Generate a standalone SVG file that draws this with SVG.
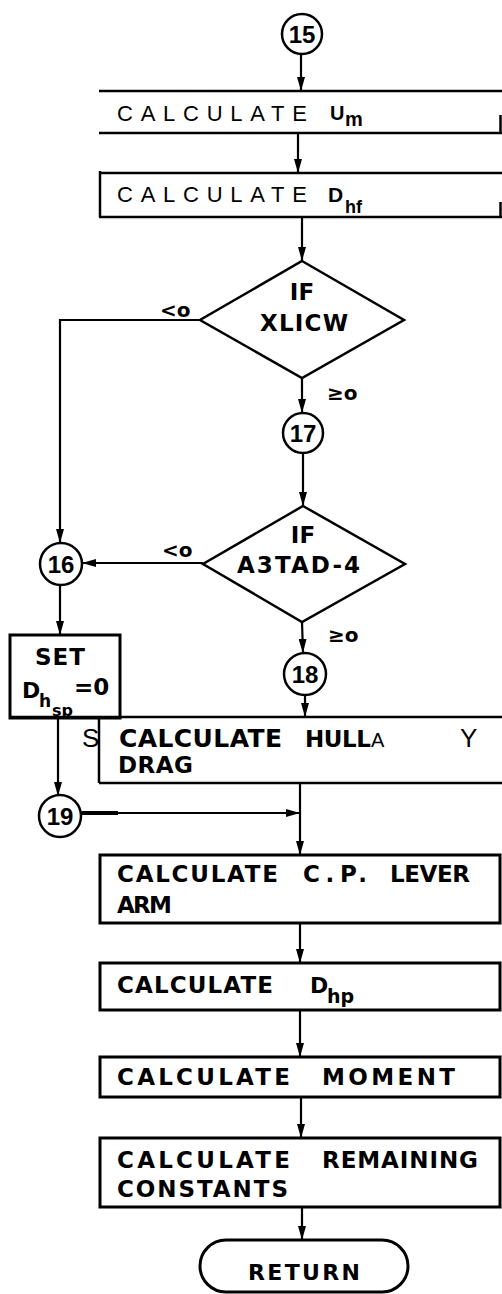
<svg xmlns="http://www.w3.org/2000/svg" width="502" height="1294" viewBox="0 0 502 1294">
<style>
.ln{stroke:#000;stroke-width:2.5;fill:none}
.bx{stroke:#000;stroke-width:3;fill:#fff}
.cn{stroke:#000;stroke-width:2.2;fill:none}
.c{stroke:#000;stroke-width:2.5;fill:#fff}
.b{font-family:"DejaVu Sans","Liberation Sans",sans-serif;font-weight:bold;fill:#000}
.d{font-family:"Liberation Sans",Arial,sans-serif;font-weight:bold;fill:#000}
.t{font-family:"Liberation Sans",Arial,sans-serif;font-weight:normal;fill:#000}
.m{text-anchor:middle}
</style>
<defs>
<marker id="ah" markerUnits="userSpaceOnUse" markerWidth="15" markerHeight="8" refX="14" refY="4" orient="auto">
<path d="M0,0 L14,4 L0,8 z" fill="#000"/>
</marker>
</defs>
<rect width="502" height="1294" fill="#fff"/>

<g id="connectors">
<line class="cn" x1="301" y1="54" x2="301" y2="91" marker-end="url(#ah)"/>
<line class="cn" x1="298" y1="133" x2="298" y2="173" marker-end="url(#ah)"/>
<line class="cn" x1="302" y1="217" x2="302" y2="261" marker-end="url(#ah)"/>
<polyline class="cn" points="200,320 60,320 60,543" marker-end="url(#ah)"/>
<line class="cn" x1="302" y1="378" x2="302" y2="413" marker-end="url(#ah)"/>
<line class="cn" x1="303" y1="453" x2="303" y2="506" marker-end="url(#ah)"/>
<line class="cn" x1="203" y1="563" x2="82" y2="563" marker-end="url(#ah)"/>
<line class="cn" x1="60" y1="585" x2="60" y2="635" marker-end="url(#ah)"/>
<line class="cn" x1="302" y1="622" x2="303" y2="653" marker-end="url(#ah)"/>
<line class="cn" x1="305" y1="695" x2="305" y2="717" marker-end="url(#ah)"/>
<line class="cn" x1="58" y1="718" x2="58" y2="796" marker-end="url(#ah)"/>
<line class="cn" x1="82" y1="813" x2="300" y2="813" marker-end="url(#ah)"/>
<line x1="82" y1="813" x2="118" y2="813" stroke="#000" stroke-width="4"/>
<line class="cn" x1="300" y1="783" x2="300" y2="855" marker-end="url(#ah)"/>
<line class="cn" x1="300" y1="923" x2="300" y2="963" marker-end="url(#ah)"/>
<line class="cn" x1="300" y1="1010" x2="300" y2="1057" marker-end="url(#ah)"/>
<line class="cn" x1="301" y1="1097" x2="301" y2="1138" marker-end="url(#ah)"/>
<line class="cn" x1="302" y1="1207" x2="302" y2="1240" marker-end="url(#ah)"/>
</g>

<g id="n15">
<circle class="c" cx="302" cy="34" r="20"/>
<text class="d m" x="302" y="42.5" font-size="24">15</text>
</g>

<g id="calcUm">
<line class="ln" x1="99" y1="91" x2="502" y2="91" stroke-width="3"/>
<line class="ln" x1="99" y1="133" x2="502" y2="133" stroke-width="3"/>
<line class="ln" x1="500.5" y1="115" x2="500.5" y2="133" stroke-width="1.5"/>
<text class="t" x="117" y="121" font-size="22" textLength="190" lengthAdjust="spacing">CALCULATE</text>
<text class="d" x="330" y="120" font-size="20">U</text>
<text class="d" x="345" y="126" font-size="20">m</text>
</g>

<g id="calcDhf">
<line class="ln" x1="99" y1="173" x2="502" y2="173" stroke-width="3"/>
<line class="ln" x1="99" y1="217" x2="502" y2="217" stroke-width="3"/>
<line class="ln" x1="100" y1="171" x2="100" y2="217" stroke-width="3"/>
<line class="ln" x1="500.5" y1="202" x2="500.5" y2="217" stroke-width="1.5"/>
<text class="t" x="117" y="202" font-size="22" textLength="190" lengthAdjust="spacing">CALCULATE</text>
<text class="d" x="328" y="202" font-size="21">D</text>
<text class="d" x="345" y="213" font-size="18">hf</text>
</g>

<g id="ifXLICW">
<polygon class="c" points="302,261 404,320 302,378 200,320"/>
<text class="b m" x="302" y="300" font-size="23">IF</text>
<text class="b" x="260" y="331" font-size="23" textLength="88" lengthAdjust="spacing">XLICW</text>
<text class="b" x="160" y="317" font-size="20">&lt;o</text>
<text class="b" x="327" y="400" font-size="20">≥o</text>
</g>

<g id="n17">
<circle class="c" cx="303" cy="433" r="20"/>
<text class="d m" x="303" y="441.5" font-size="24">17</text>
</g>

<g id="ifA3TAD">
<polygon class="c" points="303,506 405,564 302,622 203,564"/>
<text class="b m" x="303" y="543" font-size="23">IF</text>
<text class="b" x="237" y="573" font-size="23" textLength="123" lengthAdjust="spacing">A3TAD-4</text>
<text class="b" x="162" y="557" font-size="20">&lt;o</text>
<text class="b" x="328" y="642" font-size="20">≥o</text>
</g>

<g id="n16">
<circle class="c" cx="61" cy="564" r="21"/>
<text class="d m" x="61" y="572.5" font-size="24">16</text>
</g>

<g id="n18">
<circle class="c" cx="305" cy="674" r="21"/>
<text class="d m" x="305" y="682.5" font-size="24">18</text>
</g>

<g id="setDhsp">
<rect class="bx" x="10" y="635" width="110" height="83"/>
<text class="b m" x="60" y="665" font-size="23" textLength="50" lengthAdjust="spacing">SET</text>
<text class="b" x="22" y="698" font-size="22">D</text>
<text class="b" x="39" y="707" font-size="17">h</text>
<text class="b" x="52" y="716" font-size="16">sp</text>
<text class="b" x="74" y="695" font-size="23">=0</text>
</g>

<g id="hullDrag">
<text class="t" x="82" y="747" font-size="26">S</text>
<line class="ln" x1="10" y1="717" x2="502" y2="717" stroke-width="3"/>
<line class="ln" x1="99" y1="717" x2="99" y2="783" stroke-width="2"/>
<line class="ln" x1="99" y1="783" x2="502" y2="783" stroke-width="2.5"/>
<text class="b" x="119" y="747" font-size="25" textLength="163" lengthAdjust="spacing">CALCULATE</text>
<text class="b" x="305" y="747" font-size="23" textLength="66" lengthAdjust="spacing">HULL</text>
<text class="t" x="371" y="747" font-size="20">A</text>
<text class="t" x="460" y="747" font-size="26">Y</text>
<text class="b" x="118" y="773" font-size="23" textLength="75" lengthAdjust="spacing">DRAG</text>
</g>

<g id="n19">
<circle class="c" cx="60" cy="816" r="21"/>
<text class="d m" x="60" y="824.5" font-size="24">19</text>
</g>

<g id="calcCP">
<rect class="bx" x="100" y="855" width="400" height="68"/>
<text class="b" x="117" y="882" font-size="23" textLength="161" lengthAdjust="spacing">CALCULATE</text>
<text class="b" x="303" y="882" font-size="23" textLength="64" lengthAdjust="spacing">C.P.</text>
<text class="b" x="390" y="882" font-size="23" textLength="80" lengthAdjust="spacing">LEVER</text>
<text class="b" x="117" y="913" font-size="23" textLength="55" lengthAdjust="spacing">ARM</text>
</g>

<g id="calcDhp">
<rect class="bx" x="100" y="963" width="400" height="47"/>
<text class="b" x="117" y="993" font-size="23" textLength="156" lengthAdjust="spacing">CALCULATE</text>
<text class="b" x="310" y="993" font-size="22">D</text>
<text class="b" x="327" y="1003" font-size="19">hp</text>
</g>

<g id="calcMoment">
<rect class="bx" x="100" y="1057" width="400" height="40"/>
<text class="b" x="117" y="1085" font-size="23" textLength="173" lengthAdjust="spacing">CALCULATE</text>
<text class="b" x="322" y="1085" font-size="23" textLength="133" lengthAdjust="spacing">MOMENT</text>
</g>

<g id="calcRemaining">
<rect class="bx" x="100" y="1138" width="400" height="69"/>
<text class="b" x="117" y="1168" font-size="23" textLength="173" lengthAdjust="spacing">CALCULATE</text>
<text class="b" x="322" y="1168" font-size="23" textLength="156" lengthAdjust="spacing">REMAINING</text>
<text class="b" x="117" y="1197" font-size="23" textLength="171" lengthAdjust="spacing">CONSTANTS</text>
</g>

<g id="return">
<rect class="bx" x="200" y="1240" width="208" height="52" rx="26"/>
<text class="b" x="248" y="1280" font-size="22" textLength="112" lengthAdjust="spacing">RETURN</text>
</g>
</svg>
